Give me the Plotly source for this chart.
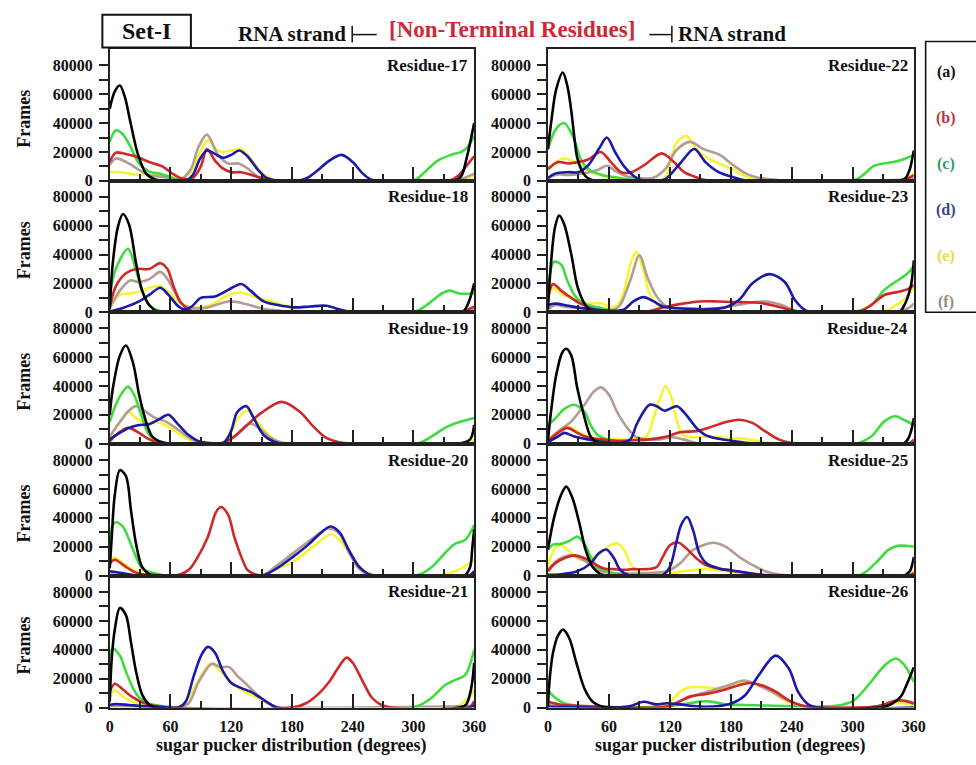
import plotly.graph_objects as go

# ---------------- data ----------------
SERIES = ["a", "b", "c", "d", "e", "f"]
LEGEND_LABELS = ["(a)", "(b)", "(c)", "(d)", "(e)", "(f)"]
X_TICKS = [0, 60, 120, 180, 240, 300, 360]
X_MINOR = [30, 90, 150, 210, 270, 330]
Y_TICKS = [0, 20000, 40000, 60000, 80000]
Y_TICK_TEXT = ["0", "20000", "40000", "60000", "80000"]
Y_MINOR = [10000, 30000, 50000, 70000]

# each curve: [degree, frames (thousands)]
R17 = {
    "a": [[0, 50], [5, 62], [10, 66], [15, 58], [20, 42], [28, 18], [36, 5], [45, 1], [55, 0], [340, 0], [347, 3], [353, 17], [360, 40]],
    "b": [[0, 13], [6, 19.5], [19, 18], [29, 16], [39, 13], [52, 10], [62, 5], [72, 1.5], [82, 2], [90, 10], [96, 22], [104, 14], [111, 9], [120, 6], [130, 6], [140, 4], [150, 2], [160, 0.5], [170, 0], [335, 0], [345, 4], [352, 10], [360, 17]],
    "c": [[0, 27], [6, 35], [12, 33], [19.5, 25], [29, 12], [39, 6.4], [49, 5], [58, 3], [68, 1], [78, 0], [300, 0], [311, 6], [324, 14], [337, 18], [347, 20], [353, 23], [360, 31]],
    "d": [[0, 0], [75, 0], [82, 4], [89, 15], [96, 21], [103, 19], [112, 16], [120, 18], [128, 21], [136, 17], [146, 8], [155, 2], [165, 0], [185, 0], [195, 2], [205, 7], [215, 13], [229, 18], [240, 13], [250, 5], [258, 1], [268, 0], [360, 0]],
    "e": [[0, 6], [10, 6], [20, 5], [30, 4], [40, 4], [50, 4], [60, 3], [70, 1.5], [80, 6], [88, 18], [97, 28], [105, 22], [110, 20], [120, 21], [130, 22], [139, 15.5], [149, 6.4], [158, 2], [167, 0], [345, 0], [352, 1], [360, 4]],
    "f": [[0, 11], [6, 15.5], [19, 12], [29, 7.5], [39, 4], [49, 3], [60, 2], [70, 1], [80, 8], [88, 24], [96, 32], [107, 18], [117, 12], [127, 12], [136, 8.7], [146, 3], [155, 0.5], [165, 0], [340, 0], [350, 2], [360, 5]],
}
R18 = {
    "a": [[0, 2], [3, 34], [8, 59], [13, 68], [19, 61], [26, 34], [32, 15], [39, 5], [49, 0], [348, 0], [354, 6], [360, 20]],
    "b": [[0, 4], [6, 18], [16, 27], [26, 30], [39, 30], [50, 34], [57, 30], [63, 18], [70, 7], [78, 2], [86, 0], [345, 0], [360, 4]],
    "c": [[0, 13], [6, 30], [18, 44], [26, 29], [32, 15], [39, 5], [49, 1], [56, 0], [300, 0], [315, 6], [328, 13], [336, 15], [345, 13], [360, 13]],
    "d": [[0, 0.5], [13, 3], [29, 7.5], [39, 12], [50, 17], [58, 12], [68, 4], [74, 2], [81, 4], [90, 10], [104, 11], [117, 15.5], [130, 19.6], [139, 15], [152, 7.5], [166, 5], [182, 3.4], [198, 4], [214, 4.5], [227, 2], [240, 0], [360, 0]],
    "e": [[0, 4], [10, 12], [19, 13], [29, 14], [39, 17], [50, 18], [58, 14], [68, 7.5], [78, 4], [88, 3.4], [100, 5], [117, 12], [129, 13.7], [142, 11], [159, 7.5], [175, 4], [188, 1], [200, 0], [355, 0], [360, 2]],
    "f": [[0, 3], [10, 15], [20, 22], [29, 21], [39, 23], [50, 28], [57, 23], [65, 13], [71, 6], [81, 3], [94, 3], [117, 7.5], [127, 7], [143, 4], [155, 2], [168, 1], [180, 0], [355, 0], [360, 2]],
}
R19 = {
    "a": [[0, 20], [3, 38], [10, 61], [16, 68], [23, 56], [29, 34], [36, 15], [42, 5], [52, 1], [60, 0], [345, 0], [356, 3], [360, 13]],
    "b": [[0, 1.5], [6, 6], [18, 11], [29, 7.5], [39, 3], [49, 0.5], [55, 0], [110, 0], [123, 5], [136, 13], [149, 21], [170, 29], [188, 22], [201, 12], [214, 4], [227, 1], [240, 0], [360, 0]],
    "c": [[0, 15], [6, 27], [13, 36], [18, 39.5], [24, 34], [32, 18], [39, 6], [49, 1], [60, 0], [303, 0], [318, 5], [331, 11], [341, 14], [360, 17.8]],
    "d": [[0, 3], [10, 7.5], [19, 11], [29, 13], [39, 13.5], [49, 17], [58, 20], [68, 13], [78, 6], [87, 2], [97, 0.5], [113, 1], [120, 9], [126, 22], [135, 26], [142, 18], [152, 6], [162, 1.5], [170, 0], [360, 0]],
    "e": [[0, 5], [10, 15], [18, 22], [26, 17.8], [36, 14], [45, 15], [55, 13], [65, 8.5], [75, 4], [84, 1], [110, 0.5], [120, 8], [126, 17], [136, 22.8], [146, 15], [156, 7], [165, 2], [175, 0], [355, 0], [360, 3]],
    "f": [[0, 5], [10, 15], [19, 23], [26, 26], [36, 22], [45, 17.8], [55, 15.5], [65, 11], [75, 6], [84, 2], [97, 0.5], [113, 0.7], [123, 5], [138, 14], [149, 10], [159, 4], [169, 1], [180, 0], [360, 0]],
}
R20 = {
    "a": [[0, 5], [2, 27], [5, 56], [10, 73], [16, 69], [21, 45], [26, 22], [32, 6], [39, 1], [45, 0], [350, 0], [356, 6], [358, 18], [360, 32]],
    "b": [[0, 8.5], [5, 11], [13, 7.5], [23, 3], [32, 1], [42, 0.5], [60, 0], [65, 0], [78, 4], [87, 13], [97, 27], [105, 44], [110, 47.5], [117, 42], [123, 27], [130, 13], [136, 4], [143, 1], [150, 0], [355, 0], [360, 3]],
    "c": [[0, 24], [3, 35], [6, 37], [13, 34], [19, 25], [26, 13], [32, 5], [42, 2], [52, 0.5], [60, 0], [303, 0], [318, 6], [331, 15.5], [341, 22], [351, 24.6], [360, 35]],
    "d": [[0, 3], [10, 2], [23, 0.5], [35, 0], [150, 0], [165, 5], [181, 13], [197, 22], [207, 28.7], [218, 34], [227, 30], [236, 18], [246, 6.5], [256, 1], [265, 0], [355, 0], [360, 3]],
    "e": [[0, 11], [5, 12.5], [13, 8.5], [23, 4], [32, 1.5], [42, 0.5], [55, 0], [150, 0], [162, 4], [175, 7.5], [188, 13], [201, 20], [219, 28.7], [230, 22], [240, 12], [250, 4], [259, 0.5], [265, 0], [325, 0], [337, 2], [347, 5], [360, 11]],
    "f": [[0, 1], [20, 0], [150, 0], [165, 7], [181, 15.5], [197, 24], [216, 32.6], [227, 29], [236, 16.6], [246, 5], [256, 0.7], [265, 0], [360, 0]],
}
R21 = {
    "a": [[0, 4], [2, 34], [5, 54], [10, 69], [16, 64], [21, 45], [26, 25], [32, 9], [39, 2], [45, 0], [345, 0], [352, 2], [357, 13], [360, 31]],
    "b": [[0, 11], [5, 16.5], [13, 12.5], [23, 7], [32, 3.6], [42, 1.6], [52, 0.5], [60, 0], [180, 0], [194, 3], [207, 10], [217, 18], [227, 29], [234, 34.6], [240, 31], [250, 18], [259, 6.8], [269, 1.6], [278, 0], [355, 0], [360, 4.5]],
    "c": [[0, 34], [3, 41], [10, 36], [16, 25], [23, 13.5], [29, 7], [39, 2.7], [52, 1], [65, 0], [300, 0], [318, 6.8], [331, 15.5], [341, 19], [351, 22.4], [360, 40]],
    "d": [[0, 2], [6, 2.5], [19, 1.8], [32, 1], [52, 0.3], [68, 0], [75, 4], [83, 22], [91, 37], [97, 42], [104, 38], [112, 25], [120, 17], [130, 13.5], [139, 11], [149, 6.8], [159, 2.2], [165, 0], [355, 0], [360, 1.5]],
    "e": [[0, 7.5], [5, 12], [13, 7.5], [23, 4], [32, 2.2], [45, 1], [62, 0], [68, 0.5], [78, 7], [87, 18], [99, 30], [110, 25], [120, 17], [130, 12.5], [139, 9], [149, 5.7], [159, 1.8], [165, 0], [340, 0], [345, 1.5], [354, 6.5], [360, 12]],
    "f": [[0, 1], [10, 1], [36, 0.5], [68, 0], [78, 3], [88, 18], [101, 30.4], [109, 28], [118, 28], [126, 22], [136, 15.5], [146, 8.7], [156, 3], [165, 0.5], [170, 0], [360, 1]],
}
R22 = {
    "a": [[0, 22], [4, 45], [8, 63], [14.6, 75], [19, 66], [22.7, 50], [26, 30], [29, 15.5], [35, 5], [40, 1.5], [48, 0], [345, 0], [352, 2], [356, 8], [360, 21]],
    "b": [[0, 8], [10, 13], [20, 12], [30, 13], [40, 15], [52, 20], [62, 13], [72, 6], [82, 6], [95, 11], [112, 19], [124, 13], [134, 6], [144, 3], [152, 1], [162, 0], [345, 0], [355, 2], [360, 4]],
    "c": [[0, 22], [8, 36], [16, 40], [25, 30], [33, 14], [40, 8], [53, 4], [70, 2], [85, 0.5], [100, 0], [300, 0], [310, 4], [320, 10], [330, 12], [340, 13], [350, 15], [360, 18]],
    "d": [[0, 2], [7, 5], [20, 6], [30, 6], [40, 11], [50, 22], [58, 30], [66, 20], [75, 10], [85, 3], [92, 0.5], [100, 0], [115, 1], [130, 12], [144, 22], [155, 13], [168, 6], [180, 3], [190, 1], [200, 0], [360, 0]],
    "e": [[0, 8], [10, 14], [16, 15.5], [30, 12], [42, 6], [52, 4], [62, 2], [75, 0.5], [110, 0], [117, 4], [126, 26], [136, 31], [146, 22], [159, 15], [172, 11], [182, 8], [195, 3], [207, 1], [220, 0], [350, 1], [360, 5]],
    "f": [[0, 2], [10, 4.5], [20, 4], [33, 5], [49, 7.5], [58, 10.5], [68, 6], [78, 3], [90, 2], [103, 2], [116, 8.7], [126, 21], [140, 27], [153, 22], [169, 18], [182, 11], [195, 5], [208, 2], [220, 1], [235, 0], [355, 1], [360, 2]],
}
R23 = {
    "a": [[0, 2], [3, 34], [7, 59], [11, 67], [16, 61], [23, 40], [29, 18], [36, 6], [42, 1], [50, 0], [345, 0], [350, 4], [357, 18], [360, 36]],
    "b": [[0, 10], [5, 19.6], [13, 15], [23, 10], [32, 6], [42, 3], [52, 1], [68, 0], [95, 0], [117, 4], [133, 6], [149, 7.5], [168, 7.5], [188, 7], [210, 6.4], [226, 4], [240, 1.5], [250, 0], [305, 0], [318, 5], [331, 12], [344, 14], [354, 16], [360, 19]],
    "c": [[0, 15], [6, 35], [13, 33], [19, 22], [26, 12], [32, 7.5], [39, 5], [52, 3], [65, 1], [85, 0], [300, 0], [318, 5], [331, 15.5], [344, 22], [354, 27], [360, 32]],
    "d": [[0, 5], [7, 6], [20, 4.5], [32, 3], [45, 2], [65, 1], [75, 2], [84, 7.5], [94, 10.5], [104, 7.5], [113, 4], [123, 3], [139, 2.4], [155, 2], [175, 3.5], [188, 8.5], [201, 20], [218, 26.4], [233, 21], [243, 8.5], [253, 1.5], [260, 0], [360, 0]],
    "e": [[0, 8], [5, 16.6], [13, 13], [23, 10], [32, 7], [42, 6], [52, 6.4], [60, 4], [68, 4.5], [75, 15], [81, 33], [87, 42], [94, 29], [100, 13], [110, 4], [120, 1.5], [129, 0.5], [135, 0], [330, 0], [340, 4], [350, 8.5], [357, 14], [360, 17]],
    "f": [[0, 2], [7, 5], [20, 3.5], [32, 3], [52, 2], [65, 2], [71, 5], [81, 22], [90, 39.5], [98, 24], [107, 11], [117, 4], [129, 3], [155, 2.4], [175, 3.5], [194, 6], [214, 7.5], [230, 5], [243, 1], [255, 0], [345, 0], [355, 3], [360, 6]],
}
R24 = {
    "a": [[0, 2], [3, 22], [8, 47], [14, 63], [18, 65.7], [23, 61], [29, 38], [36, 18], [42, 5], [49, 0.5], [55, 0], [350, 0], [356, 6], [360, 17.8]],
    "b": [[0, 2], [10, 7.5], [19, 11], [29, 7.5], [39, 4.5], [52, 3], [68, 2], [84, 2.4], [100, 3], [117, 5], [130, 8], [146, 8.7], [162, 12], [175, 15], [188, 16.6], [201, 14.4], [214, 8.5], [227, 3], [240, 0.5], [250, 0], [355, 0], [360, 3]],
    "c": [[0, 13], [6, 16.6], [16, 24], [26, 27], [36, 22], [42, 13], [49, 6], [58, 3], [71, 1], [84, 0], [303, 0], [318, 5], [331, 15.5], [342, 19], [350, 16.6], [360, 13]],
    "d": [[0, 1], [10, 5], [16, 7.5], [26, 5], [39, 3], [52, 1.5], [71, 0.5], [81, 3], [87, 13], [94, 22], [100, 27], [107, 26], [115, 22.8], [127, 26], [136, 20], [146, 11], [155, 6], [168, 3.4], [181, 2], [194, 0.7], [207, 0], [360, 0]],
    "e": [[0, 3], [10, 8.5], [19, 12], [29, 8.5], [39, 5], [52, 3.5], [68, 3], [84, 3], [97, 5], [104, 17.8], [110, 31], [116, 40], [122, 31], [126, 17.8], [133, 6], [143, 4.5], [159, 5], [175, 4], [194, 3.5], [207, 1.8], [220, 0.5], [230, 0], [355, 0], [360, 2]],
    "f": [[0, 2], [10, 8.5], [23, 15.5], [36, 27], [45, 36], [52, 39], [60, 34], [68, 22], [78, 11], [87, 4.5], [97, 3], [110, 3], [123, 4.5], [133, 3], [143, 1], [150, 0], [355, 0], [360, 2]],
}
R25 = {
    "a": [[0, 18], [6, 40], [13, 56], [18, 61.6], [24, 54], [31, 36], [37, 18], [44, 6], [52, 1], [60, 0], [350, 0], [356, 3], [360, 13]],
    "b": [[0, 3], [7, 8.5], [16, 12], [26, 14], [36, 12], [45, 8.5], [55, 5], [65, 4.5], [75, 4], [84, 4.5], [97, 4.5], [107, 6], [113, 13], [120, 21], [128, 23], [136, 19], [146, 12], [155, 7.5], [168, 5], [181, 3.4], [197, 1.8], [214, 0.5], [225, 0], [355, 0], [360, 2]],
    "c": [[0, 18], [5, 21.5], [13, 22], [21, 24], [29, 27], [36, 22], [42, 13], [49, 6], [58, 3], [71, 1], [85, 0], [306, 0], [322, 8.5], [335, 17.8], [344, 20.6], [360, 20]],
    "d": [[0, 0.5], [13, 1], [29, 3], [42, 8.5], [50, 15.5], [58, 18], [65, 12], [71, 4], [79, 0.5], [90, 0], [113, 0.5], [120, 6], [126, 22], [131, 35], [137, 40.6], [143, 31], [149, 15.5], [156, 8.5], [168, 5], [181, 3.6], [194, 2.2], [210, 0.3], [220, 0], [360, 0]],
    "e": [[0, 6], [6, 17.8], [13, 21], [23, 15.5], [32, 11], [42, 12], [52, 15.5], [61, 21], [68, 22.4], [75, 17.8], [81, 8.5], [88, 3], [100, 1.4], [117, 1.4], [133, 3], [155, 4.5], [175, 3], [194, 1.4], [210, 0.3], [220, 0], [355, 0], [360, 3]],
    "f": [[0, 4], [10, 11], [23, 14], [32, 12], [42, 7.5], [52, 3.4], [62, 1.8], [78, 1.4], [97, 1.8], [117, 3], [130, 8.5], [143, 17.8], [162, 22.8], [175, 20], [188, 13], [201, 7.5], [214, 3], [227, 0.7], [240, 0], [360, 0]],
}
R26 = {
    "a": [[0, 1], [2, 22], [5, 38], [10, 50], [15, 54], [21, 48], [28, 31], [36, 13], [44, 4], [52, 1], [60, 0], [325, 0], [337, 2], [347, 7.5], [353, 16], [360, 28]],
    "b": [[0, 4], [13, 2], [36, 1], [68, 0], [117, 0.5], [126, 3], [139, 7.5], [156, 9.5], [172, 12], [188, 15.5], [198, 17], [210, 15.5], [224, 11], [237, 5], [250, 1.4], [259, 0.3], [270, 0], [320, 0.5], [331, 2.2], [344, 5], [357, 3.5], [360, 2.5]],
    "c": [[0, 12], [6, 7.5], [16, 3], [29, 1.3], [52, 0.5], [110, 0.5], [130, 2], [156, 4.5], [175, 2.2], [194, 1.8], [214, 1.4], [233, 1.1], [253, 0.7], [272, 0.7], [290, 2], [302, 5.5], [318, 18], [331, 29], [342, 34], [350, 30], [360, 17.8]],
    "d": [[0, 0.5], [20, 0.3], [68, 0], [81, 1], [94, 4], [107, 2.2], [117, 3], [130, 2.2], [143, 1], [156, 0.5], [168, 1], [181, 3], [194, 8.5], [207, 22], [224, 36], [237, 27], [246, 11], [256, 2.2], [266, 0], [360, 0]],
    "e": [[0, 2], [13, 1.4], [68, 0], [110, 1], [120, 4], [130, 11], [139, 14], [156, 14], [168, 13], [181, 15.5], [194, 18], [207, 15.5], [220, 11], [233, 5], [246, 1.8], [259, 0.3], [270, 0], [320, 0], [331, 2], [344, 3], [357, 2.2], [360, 1.5]],
    "f": [[0, 2], [13, 1.4], [68, 0], [117, 1], [130, 4.5], [146, 8.7], [162, 12], [178, 15.5], [193, 18.7], [207, 15.5], [220, 11], [233, 6], [246, 1.8], [259, 0.3], [270, 0], [320, 0.5], [331, 2.2], [344, 5], [357, 4], [360, 3]],
}

LEFT_PANELS = [("Residue-17", R17), ("Residue-18", R18), ("Residue-19", R19), ("Residue-20", R20), ("Residue-21", R21)]
RIGHT_PANELS = [("Residue-22", R22), ("Residue-23", R23), ("Residue-24", R24), ("Residue-25", R25), ("Residue-26", R26)]

# ---------------- style / layout ----------------
W, H = 976, 765
COLORS = {"a": "#000000", "b": "#d02828", "c": "#3fdc3f", "d": "#1a1aaa", "e": "#f5f532", "f": "#b39d92"}
LEGEND_COLORS = {"a": "#111111", "b": "#b8383c", "c": "#2f9f6c", "d": "#384889", "e": "#e6dc3a", "f": "#9a8a78"}
DRAW_ORDER = ["e", "f", "c", "b", "d", "a"]
FONT = "Liberation Serif, Times New Roman, serif"
COL_PX = [(107.5, 478.0), (553.0, 925.0)]
ROW_TOP = [50.0, 183.0, 316.0, 449.5, 583.0]
ROW_H = 133.0
YMAX = 91000

def px_x(p):
    return p / W

def px_y(p):
    return 1 - p / H

fig = go.Figure()
annotations = []
shapes = []
n = 0
for col, panels in enumerate([LEFT_PANELS, RIGHT_PANELS]):
    for row, (label, data) in enumerate(panels):
        n += 1
        xa = "x" if n == 1 else f"x{n}"
        ya = "y" if n == 1 else f"y{n}"
        for key in DRAW_ORDER:
            pts = data[key]
            fig.add_trace(go.Scatter(
                x=[p[0] for p in pts], y=[p[1] * 1000 for p in pts],
                mode="lines", xaxis=xa, yaxis=ya, showlegend=False, hoverinfo="skip",
                line=dict(color=COLORS[key], width=2.6, shape="spline", smoothing=0.9),
            ))
        x0, x1 = COL_PX[col]
        top = ROW_TOP[row]
        bottom = top + ROW_H
        bottom_row = row == len(panels) - 1
        axis_line = dict(showline=True, mirror=True, linecolor="#222222", linewidth=1.6,
                         showgrid=False, zeroline=False)
        fig.layout[f"xaxis{'' if n == 1 else n}"] = dict(
            domain=[px_x(x0), px_x(x1)], anchor=ya, range=[0, 360],
            tickmode="array", tickvals=X_TICKS, ticks="inside", ticklen=14, tickwidth=1.6,
            tickcolor="#222222",
            minor=dict(tickmode="array", tickvals=X_MINOR, ticks="inside", ticklen=7, tickwidth=1.6, tickcolor="#222222"),
            showticklabels=bottom_row, ticklabelstandoff=3,
            tickfont=dict(family=FONT, size=16, color="#111111", weight="bold"),
            **axis_line,
        )
        fig.layout[f"yaxis{'' if n == 1 else n}"] = dict(
            domain=[px_y(bottom), px_y(top)], anchor=xa, range=[0, YMAX],
            tickmode="array", tickvals=Y_TICKS, ticktext=Y_TICK_TEXT,
            ticks="outside", ticklen=9, tickwidth=1.6, tickcolor="#222222",
            minor=dict(tickmode="array", tickvals=Y_MINOR, ticks="outside", ticklen=9, tickwidth=1.6, tickcolor="#222222"),
            tickfont=dict(family=FONT, size=16, color="#111111", weight="bold"),
            ticklabelstandoff=3,
            **axis_line,
        )
        annotations.append(dict(
            text=label, xref="paper", yref="paper", x=px_x(x1 - 4), y=px_y(top + 16),
            xanchor="right", yanchor="middle", showarrow=False,
            font=dict(family=FONT, size=17, color="#111111", weight="bold"),
        ))
        if col == 0:
            annotations.append(dict(
                text="Frames", xref="paper", yref="paper", x=px_x(20), y=px_y(top + ROW_H / 2 + 4),
                xanchor="center", yanchor="middle", textangle=-90, showarrow=False,
                font=dict(family=FONT, size=18, color="#111111", weight="bold"),
            ))
        if bottom_row:
            annotations.append(dict(
                text="sugar pucker distribution (degrees)", xref="paper", yref="paper",
                x=px_x((x0 + x1) / 2), y=px_y(754), xanchor="center", yanchor="middle", showarrow=False,
                font=dict(family=FONT, size=18, color="#111111", weight="bold"),
            ))

# header
shapes.append(dict(type="rect", xref="paper", yref="paper", x0=px_x(100), x1=px_x(190),
                   y0=px_y(48), y1=px_y(15), line=dict(color="#111111", width=2)))
annotations.append(dict(text="Set-I", xref="paper", yref="paper", x=px_x(145), y=px_y(31),
                        xanchor="center", yanchor="middle", showarrow=False,
                        font=dict(family=FONT, size=24, color="#111111", weight="bold")))
annotations.append(dict(text="RNA strand", xref="paper", yref="paper", x=px_x(350), y=px_y(34),
                        xanchor="right", yanchor="middle", showarrow=False,
                        font=dict(family=FONT, size=21, color="#111111", weight="bold")))
annotations.append(dict(text="[Non-Terminal Residues]", xref="paper", yref="paper", x=px_x(516), y=px_y(30),
                        xanchor="center", yanchor="middle", showarrow=False,
                        font=dict(family=FONT, size=23, color="#cc2a36", weight="bold")))
annotations.append(dict(text="RNA strand", xref="paper", yref="paper", x=px_x(683), y=px_y(34),
                        xanchor="left", yanchor="middle", showarrow=False,
                        font=dict(family=FONT, size=21, color="#111111", weight="bold")))
for (vx, hx0, hx1) in [(354, 354, 379), (679, 656, 679)]:
    shapes.append(dict(type="line", xref="paper", yref="paper", x0=px_x(vx), x1=px_x(vx),
                       y0=px_y(43), y1=px_y(26), line=dict(color="#111111", width=1.5)))
    shapes.append(dict(type="line", xref="paper", yref="paper", x0=px_x(hx0), x1=px_x(hx1),
                       y0=px_y(35), y1=px_y(35), line=dict(color="#111111", width=1.5)))

# legend box
shapes.append(dict(type="rect", xref="paper", yref="paper", x0=px_x(937), x1=px_x(990),
                   y0=px_y(316), y1=px_y(42), line=dict(color="#111111", width=1.6)))
for i, key in enumerate(SERIES):
    annotations.append(dict(text=LEGEND_LABELS[i], xref="paper", yref="paper", x=px_x(958),
                            y=px_y(73 + i * 46.6), xanchor="center", yanchor="middle", showarrow=False,
                            font=dict(family=FONT, size=16, color=LEGEND_COLORS[key], weight="bold")))

fig.update_layout(
    width=W, height=H, margin=dict(l=0, r=0, t=0, b=0),
    paper_bgcolor="white", plot_bgcolor="white",
    annotations=annotations, shapes=shapes, showlegend=False,
)
fig.write_html("out.html")
